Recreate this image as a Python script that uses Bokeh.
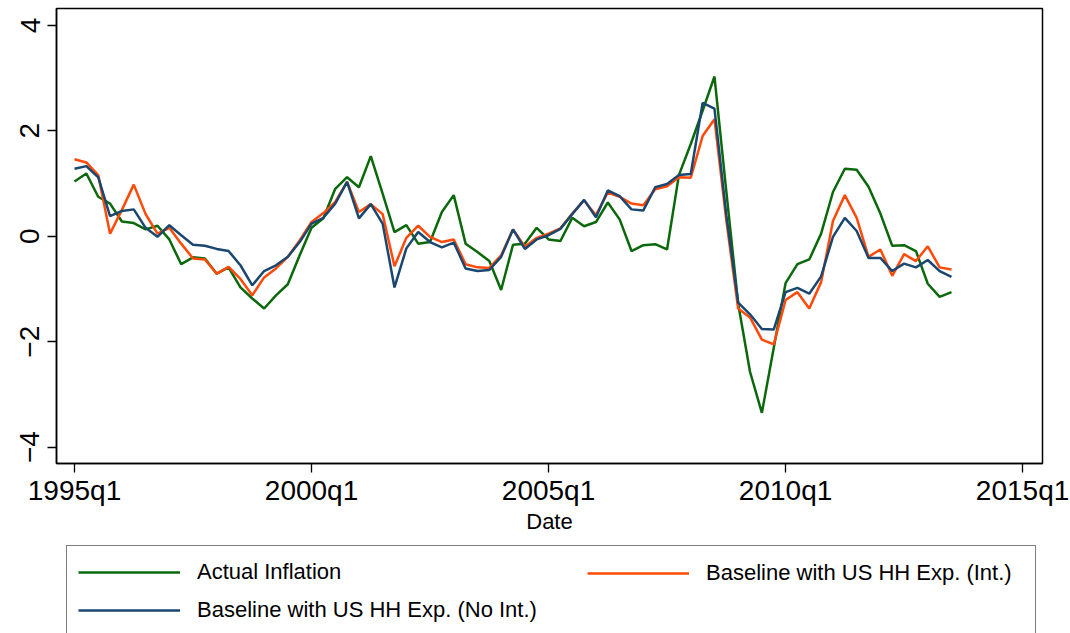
import numpy as np
from bokeh.plotting import figure
from bokeh.layouts import column
from bokeh.models import Range1d, FixedTicker, Legend, LegendItem
from bokeh.embed import file_html
from bokeh.resources import INLINE

# ---- data, quarterly from 1995q1 ----
start_year = 1995
actual_inflation = [
    1.04, 1.19, 0.75, 0.62, 0.28, 0.25, 0.13, 0.20, -0.06, -0.53,
    -0.40, -0.42, -0.71, -0.59, -0.97, -1.18, -1.37, -1.12, -0.91, -0.36,
    0.16, 0.34, 0.90, 1.12, 0.93, 1.52, 0.81, 0.08, 0.21, -0.14,
    -0.11, 0.46, 0.78, -0.14, -0.30, -0.47, -1.02, -0.16, -0.14, 0.16,
    -0.06, -0.09, 0.35, 0.19, 0.27, 0.64, 0.32, -0.28, -0.17, -0.15,
    -0.25, 1.16, 1.75, 2.38, 3.03, 0.85, -1.28, -2.57, -3.35, -2.12,
    -0.89, -0.53, -0.44, 0.05, 0.84, 1.28, 1.26, 0.94, 0.43, -0.18,
    -0.17, -0.28, -0.90, -1.15, -1.06,
]
baseline_int = [
    1.46, 1.40, 1.16, 0.05, 0.50, 0.98, 0.42, 0.05, 0.16, -0.14,
    -0.42, -0.44, -0.71, -0.58, -0.81, -1.12, -0.78, -0.61, -0.39, -0.08,
    0.27, 0.44, 0.65, 1.03, 0.46, 0.61, 0.42, -0.57, -0.03, 0.20,
    -0.01, -0.11, -0.06, -0.53, -0.59, -0.60, -0.36, 0.13, -0.20, -0.03,
    0.05, 0.15, 0.43, 0.68, 0.40, 0.83, 0.75, 0.62, 0.59, 0.89,
    0.95, 1.12, 1.11, 1.90, 2.22, 0.30, -1.37, -1.54, -1.96, -2.05,
    -1.21, -1.06, -1.37, -0.87, 0.29, 0.78, 0.35, -0.39, -0.25, -0.75,
    -0.34, -0.47, -0.19, -0.59, -0.63,
]
baseline_noint = [
    1.28, 1.33, 1.12, 0.38, 0.48, 0.51, 0.16, -0.01, 0.21, 0.02,
    -0.16, -0.18, -0.24, -0.28, -0.55, -0.93, -0.66, -0.55, -0.39, -0.11,
    0.24, 0.35, 0.62, 1.03, 0.34, 0.61, 0.24, -0.97, -0.23, 0.08,
    -0.11, -0.21, -0.12, -0.61, -0.66, -0.64, -0.39, 0.13, -0.24, -0.06,
    0.02, 0.14, 0.42, 0.69, 0.36, 0.87, 0.76, 0.51, 0.49, 0.93,
    0.99, 1.16, 1.18, 2.53, 2.42, 0.40, -1.26, -1.48, -1.76, -1.77,
    -1.06, -0.98, -1.09, -0.76, -0.01, 0.35, 0.10, -0.41, -0.41, -0.66,
    -0.52, -0.59, -0.45, -0.66, -0.77,
]
x_ticks = [1995, 2000, 2005, 2010, 2015]
x_tick_labels = ["1995q1", "2000q1", "2005q1", "2010q1", "2015q1"]
y_ticks = [-4, -2, 0, 2, 4]
series_labels = ["Actual Inflation",
                 "Baseline with US HH Exp. (Int.)",
                 "Baseline with US HH Exp. (No Int.)"]
series_colors = ["#0b680b", "#ff4a0a", "#1a476f"]

x = start_year + np.arange(len(actual_inflation)) / 4.0

FONT = "Liberation Sans"
W = 1070
LEFT, RIGHT = 56, 28
TOP_H = 545
LEG_H = 633 - TOP_H

# ---------------- main chart ----------------
p = figure(width=W, height=TOP_H, output_backend="svg", toolbar_location=None,
           x_range=Range1d(1994.62, 2015.42), y_range=Range1d(-4.31, 4.32),
           min_border_left=LEFT, min_border_right=RIGHT, min_border_top=8,
           min_border_bottom=TOP_H - 463)
p.background_fill_color = "white"
p.border_fill_color = "white"
p.outline_line_color = "black"
p.outline_line_width = 1.5
p.xgrid.visible = False
p.ygrid.visible = False

for ax in (p.xaxis[0], p.yaxis[0]):
    ax.axis_line_color = "black"
    ax.axis_line_width = 1.5
    ax.major_tick_in = 0
    ax.major_tick_out = 9
    ax.major_tick_line_width = 1.3
    ax.major_tick_line_color = "black"
    ax.minor_tick_line_color = None
    ax.major_label_text_font = FONT
    ax.major_label_text_font_size = "28px"
    ax.major_label_text_color = "black"

p.xaxis.ticker = FixedTicker(ticks=x_ticks)
p.xaxis.major_label_overrides = dict(zip(x_ticks, x_tick_labels))
p.xaxis.major_label_standoff = 2
p.xaxis.axis_label = "Date"
p.xaxis.axis_label_text_font = FONT
p.xaxis.axis_label_text_font_size = "22px"
p.xaxis.axis_label_text_font_style = "normal"
p.xaxis.axis_label_text_color = "black"
p.xaxis.axis_label_standoff = 0

p.yaxis.ticker = FixedTicker(ticks=y_ticks)
p.yaxis.major_label_orientation = "vertical"
p.yaxis.major_label_standoff = 8

series = [actual_inflation, baseline_int, baseline_noint]
for vals, col in zip(series, series_colors):
    p.line(x, vals, line_color=col, line_width=2.5)

# ---------------- legend strip below ----------------
q = figure(width=W, height=LEG_H, output_backend="svg", toolbar_location=None,
           x_range=Range1d(0, 1), y_range=Range1d(0, 1),
           x_axis_location=None, y_axis_location=None,
           min_border_left=LEFT, min_border_right=RIGHT,
           min_border_top=0, min_border_bottom=0)
q.outline_line_color = None
q.grid.visible = False
q.background_fill_color = "white"
q.border_fill_color = "white"
# legend keys: lines with a single missing point (nothing visible in the strip)
keys = [q.line(np.array([np.nan]), np.array([np.nan]), line_color=col, line_width=2.5)
        for col in series_colors]

common = dict(label_text_font=FONT, label_text_font_size="22px",
              label_text_color="black", glyph_width=102, glyph_height=30,
              label_standoff=17, spacing=8, padding=11, margin=0)

leg_a = Legend(items=[LegendItem(label=series_labels[0], renderers=[keys[0]]),
                      LegendItem(label=series_labels[2], renderers=[keys[2]])],
               location=(66 - LEFT, LEG_H - 90 - 2), orientation="vertical",
               border_line_color="black", border_line_width=1.5,
               label_width=827, **common)
leg_b = Legend(items=[LegendItem(label=series_labels[1], renderers=[keys[1]])],
               location=(576 - LEFT, LEG_H - 52 - 2), orientation="vertical",
               border_line_alpha=0, background_fill_alpha=0, **common)
q.add_layout(leg_a)
q.add_layout(leg_b)

layout = column(p, q, spacing=0)
open("out.html", "w").write(file_html(layout, INLINE))
